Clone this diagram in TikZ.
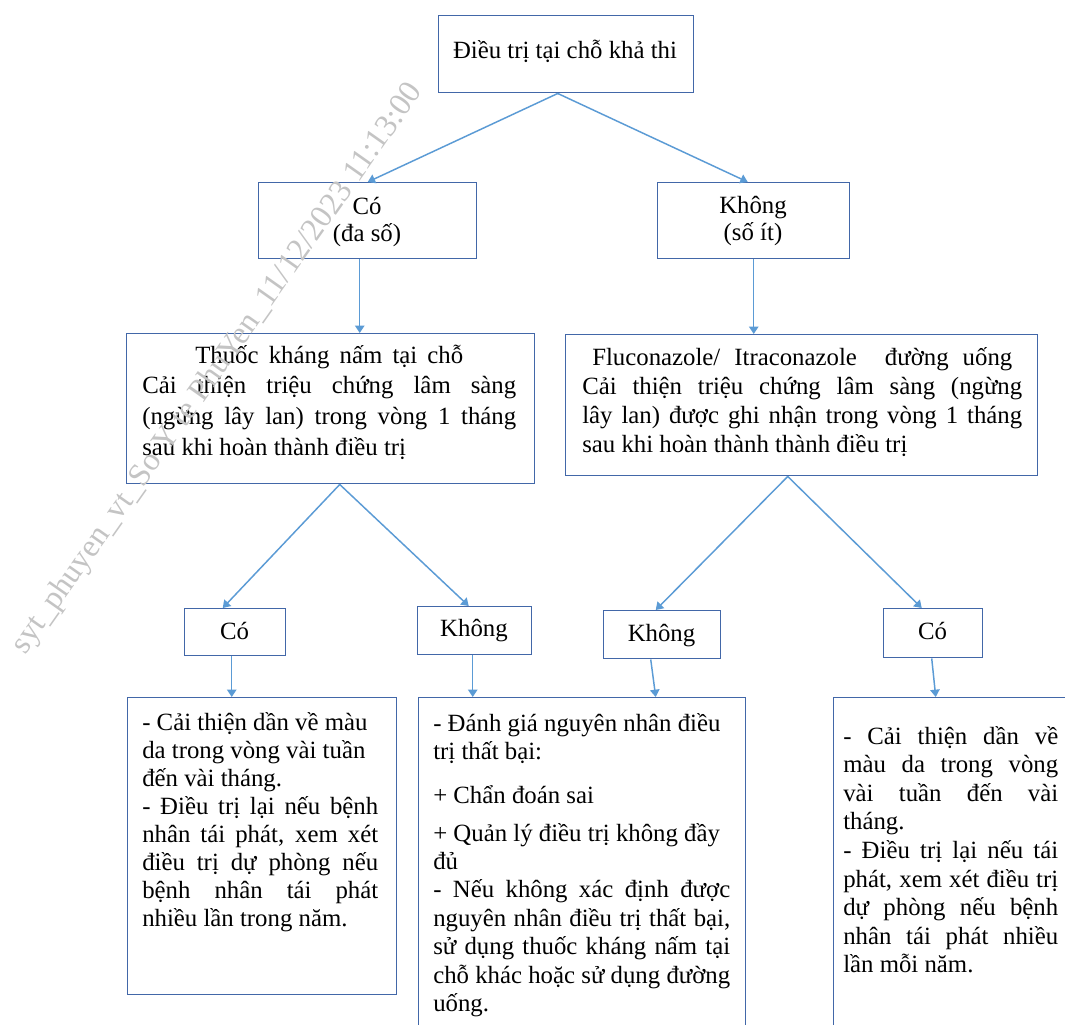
\documentclass[tikz,border=0pt]{standalone}
\usepackage{fontspec}
\setmainfont{Liberation Serif}
\usetikzlibrary{arrows.meta,calc}
\definecolor{boxc}{HTML}{4267A8}
\definecolor{arrc}{HTML}{5B9BD5}
\definecolor{wmc}{HTML}{C4C4C4}
\newcommand\jl[2]{\makebox[#1][s]{#2}}
\newcommand\fs[1]{\fontsize{18.6pt}{#1}\selectfont}
\newcommand\blk[3]{\parbox[t]{#1}{\fs{#2}#3}}
\begin{document}
\begin{tikzpicture}[x=0.75pt,y=-0.75pt,
  box/.style={draw=boxc,line width=1.1pt,inner sep=0pt,anchor=north west},
  txt/.style={anchor=base west,inner sep=0pt},
  ctxt/.style={anchor=base,inner sep=0pt,font=\fs{22pt}},
  arr/.style={draw=arrc,line width=1.1pt,-{Triangle[length=5.5pt,width=7pt]}}]
\useasboundingbox (0,0) rectangle (1065,1025);
\fill[white] (0,0) rectangle (1065,1025);
\clip (0,0) rectangle (1065,1025);
% boxes
\node[box,minimum width=255*0.75pt,minimum height=77*0.75pt] (top) at (438,15) {};
\node[box,minimum width=218*0.75pt,minimum height=76*0.75pt] (cosa) at (258,182) {};
\node[box,minimum width=192*0.75pt,minimum height=76*0.75pt] (khongsa) at (657,182) {};
\node[box,minimum width=408*0.75pt,minimum height=150*0.75pt] (thuoc) at (126,333) {};
\node[box,minimum width=472*0.75pt,minimum height=141*0.75pt] (fluco) at (565,334) {};
\node[box,minimum width=101*0.75pt,minimum height=47*0.75pt] (co1) at (184,608) {};
\node[box,minimum width=114*0.75pt,minimum height=48*0.75pt] (khong1) at (417,606) {};
\node[box,minimum width=117*0.75pt,minimum height=48*0.75pt] (khong2) at (603,610) {};
\node[box,minimum width=99*0.75pt,minimum height=49*0.75pt] (co2) at (883,608) {};
\node[box,minimum width=269*0.75pt,minimum height=297*0.75pt] (b1) at (127,697) {};
\node[box,minimum width=327*0.75pt,minimum height=345*0.75pt] (b2) at (418,697) {};
\node[box,minimum width=245*0.75pt,minimum height=345*0.75pt] (b3) at (833,697) {};
% texts
\node[ctxt] (t-top) at (565,58) {Điều trị tại chỗ khả thi};
\node[anchor=base,inner sep=0pt] (t-cosa) at (367,214) {\parbox[t]{150pt}{\centering\fs{20.25pt}Có\\(đa số)}};
\node[anchor=base,inner sep=0pt] (t-khongsa) at (753,213) {\parbox[t]{130pt}{\centering\fs{20.75pt}Không\\(số ít)}};
\node[txt] (t-thuoc) at (142,363) {\blk{280.5pt}{23pt}{%
\makebox[280.5pt]{\jl{201pt}{Thuốc kháng nấm tại chỗ}}\\
\jl{280.5pt}{Cải thiện triệu chứng lâm sàng}\\
\jl{280.5pt}{(ngừng lây lan) trong vòng 1 tháng}\\
sau khi hoàn thành điều trị}};
\node[txt] (t-fluco) at (582,365) {\blk{330pt}{21.75pt}{%
\makebox[330pt]{\jl{315pt}{Fluconazole/ Itraconazole \ đường uống}}\\
\jl{330pt}{Cải thiện triệu chứng lâm sàng (ngừng}\\
\jl{330pt}{lây lan) được ghi nhận trong vòng 1 tháng}\\
sau khi hoàn thành thành điều trị}};
\node[ctxt] (t-co1) at (234.5,639) {Có};
\node[ctxt] (t-khong1) at (474,636) {Không};
\node[ctxt] (t-khong2) at (661.5,641) {Không};
\node[ctxt] (t-co2) at (932.5,639) {Có};
\node[txt] (t-b1) at (142,730) {\blk{177pt}{21pt}{%
- Cải thiện dần về màu\\
da trong vòng vài tuần\\
đến vài tháng.\\
\jl{177pt}{- Điều trị lại nếu bệnh}\\
\jl{177pt}{nhân tái phát, xem xét}\\
\jl{177pt}{điều trị dự phòng nếu}\\
\jl{177pt}{bệnh nhân tái phát}\\
nhiều lần trong năm.}};
\node[txt] (t-b2) at (433,731) {\blk{222.75pt}{21.3pt}{%
- Đánh giá nguyên nhân điều\\
trị thất bại:\\[11.4pt]
+ Chẩn đoán sai\\[7.2pt]
+ Quản lý điều trị không đầy\\
đủ\\
\jl{222.75pt}{- Nếu không xác định được}\\
\jl{222.75pt}{nguyên nhân điều trị thất bại,}\\
\jl{222.75pt}{sử dụng thuốc kháng nấm tại}\\
\jl{222.75pt}{chỗ khác hoặc sử dụng đường}\\
uống.}};
\node[txt] (t-b3) at (843,744) {\blk{161.25pt}{21.45pt}{%
\jl{161.25pt}{- Cải thiện dần về}\\
\jl{161.25pt}{màu da trong vòng}\\
\jl{161.25pt}{vài tuần đến vài}\\
tháng.\\
\jl{161.25pt}{- Điều trị lại nếu tái}\\
\jl{161.25pt}{phát, xem xét điều trị}\\
\jl{161.25pt}{dự phòng nếu bệnh}\\
\jl{161.25pt}{nhân tái phát nhiều}\\
lần mỗi năm.}};
% connectors
\coordinate (o-top) at ($(top.south)+(-8.5,0)$);
\draw[arr] (o-top) -- (cosa.north);
\draw[arr] (o-top) -- ($(khongsa.north)+(-6,0)$);
\coordinate (o-cosa) at ($(cosa.south)+(-8,0)$);
\draw[arr] (o-cosa) -- (o-cosa |- thuoc.north);
\draw[arr] (khongsa.south) -- (khongsa.south |- fluco.north);
\coordinate (o-thuoc) at ($(thuoc.south)+(9,0)$);
\draw[arr] (o-thuoc) -- ($(co1.north)+(-12.5,0)$);
\draw[arr] (o-thuoc) -- ($(khong1.north)+(-6,0)$);
\coordinate (o-fluco) at ($(fluco.south)+(-14,0)$);
\draw[arr] (o-fluco) -- ($(khong2.north)+(-6.5,0)$);
\draw[arr] (o-fluco) -- ($(co2.north)+(-11.5,0)$);
\coordinate (o-co1) at ($(co1.south)+(-3.5,0)$);
\draw[arr] (o-co1) -- (o-co1 |- b1.north);
\coordinate (o-khong1) at ($(khong1.south)+(-2,0)$);
\draw[arr] (o-khong1) -- (o-khong1 |- b2.north);
\coordinate (o-khong2) at ($(khong2.south)+(-11.5,0)$);
\coordinate (e-khong2) at ($(khong2.south)+(-6.5,0)$);
\draw[arr] (o-khong2) -- (e-khong2 |- b2.north);
\coordinate (o-co2) at ($(co2.south)+(-1.5,0)$);
\coordinate (e-co2) at ($(co2.south)+(2.5,0)$);
\draw[arr] (o-co2) -- (e-co2 |- b3.north);
% watermark
\node[rotate=54.8,text=wmc,inner sep=0pt,font=\fontsize{24pt}{24pt}\selectfont] (wm) at (218,369) {syt\_phuyen\_vt\_So Y te PhuYen\_11/12/2023 11:13:00};
\end{tikzpicture}
\end{document}
